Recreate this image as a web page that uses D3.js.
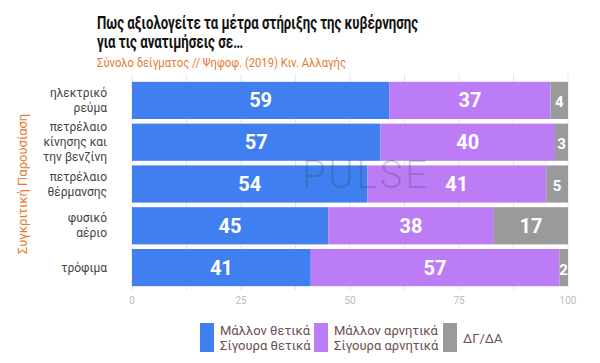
<!DOCTYPE html>
<html>
<head>
<meta charset="utf-8">
<script src="https://cdn.jsdelivr.net/npm/d3@7"></script>
<style>
  body { margin: 0; background: #fff; }
  text { font-family: Roboto, "Noto Sans", sans-serif; }
</style>
</head>
<body>
<div id="chart"></div>
<script>
var width = 600,
    height = 363;

var categories = [["ηλεκτρικό", "ρεύμα"], ["πετρέλαιο", "κίνησης και", "την βενζίνη"], ["πετρέλαιο", "θέρμανσης"], ["φυσικό", "αέριο"], ["τρόφιμα"]];
var positive = [59, 57, 54, 45, 41];
var negative = [37, 40, 41, 38, 57];
var dkna = [4, 3, 5, 17, 2];
var ticks = [0, 25, 50, 75, 100];
var colors = ["#3f7ff0", "#bb7cf6", "#9a9a9a"];

var margin = {left: 132, right: 32, top: 78, bottom: 76};

var svg = d3.select("#chart").append("svg")
    .attr("width", width)
    .attr("height", height);

var x = d3.scaleLinear().domain([0, 100]).range([margin.left, width - margin.right]);
var y = d3.scaleBand().domain(d3.range(categories.length))
    .range([margin.top + 3, height - margin.bottom]).paddingInner(0.11).paddingOuter(0.02);

// gridlines
svg.append("g").selectAll("line")
    .data(d3.range(0, 101, 12.5))
  .enter().append("line")
    .attr("x1", function(d){ return x(d); })
    .attr("x2", function(d){ return x(d); })
    .attr("y1", margin.top - 4)
    .attr("y2", height - margin.bottom + 3)
    .attr("stroke", "#e6e6e6")
    .attr("stroke-width", 1);

var rows = categories.map(function(c, i){
  var vals = [positive[i], negative[i], dkna[i]];
  var start = 0;
  return vals.map(function(v, k){
    var seg = {row: i, k: k, v: v, x0: start, x1: start + v};
    start += v;
    return seg;
  });
});
var segs = [].concat.apply([], rows);

svg.append("g").selectAll("rect")
    .data(segs)
  .enter().append("rect")
    .attr("x", function(d){ return x(d.x0); })
    .attr("width", function(d){ return x(d.x1) - x(d.x0); })
    .attr("y", function(d){ return y(d.row); })
    .attr("height", y.bandwidth())
    .attr("fill", function(d){ return colors[d.k]; });

// watermark over the bars
svg.append("text")
    .attr("x", 366).attr("y", 188)
    .attr("text-anchor", "middle")
    .attr("font-size", 38)
    .attr("font-weight", 300)
    .attr("letter-spacing", 3)
    .attr("fill", "#333")
    .attr("fill-opacity", 0.22)
    .text("PULSE");

svg.append("g").selectAll("text")
    .data(segs)
  .enter().append("text")
    .attr("x", function(d){ return (x(d.x0) + x(d.x1)) / 2; })
    .attr("y", function(d){ return y(d.row) + y.bandwidth() / 2 + 7; })
    .attr("text-anchor", "middle")
    .attr("font-size", function(d){ return d.v < 6 ? 15 : 20; })
    .attr("font-weight", "bold")
    .attr("fill", "#fff")
    .text(function(d){ return d.v; });

// category labels
var cl = svg.append("g").selectAll("text")
    .data(categories)
  .enter().append("text")
    .attr("text-anchor", "end")
    .attr("font-size", 12)
    .attr("fill", "#444")
    .attr("y", function(d, i){ return y(i) + y.bandwidth() / 2 - (d.length - 1) * 7.5 + 4; });
cl.selectAll("tspan")
    .data(function(d){ return d; })
  .enter().append("tspan")
    .attr("x", 107)
    .attr("dy", function(d, i){ return i ? 15 : 0; })
    .text(function(d){ return d; });

// x axis labels
svg.append("g").selectAll("text")
    .data(ticks)
  .enter().append("text")
    .attr("x", function(d){ return x(d); })
    .attr("y", 304)
    .attr("text-anchor", "middle")
    .attr("font-size", 10)
    .attr("fill", "#bbb")
    .text(function(d){ return d; });

// y title
svg.append("text")
    .attr("transform", "translate(27,184) rotate(-90)")
    .attr("text-anchor", "middle")
    .attr("font-size", 13)
    .attr("fill", "#e87a2e")
    .text("Συγκριτική Παρουσίαση");

// titles
svg.append("text").attr("x", 97).attr("y", 29)
    .attr("font-size", 18).attr("font-weight", "bold").attr("fill", "#111")
    .attr("textLength", 321).attr("lengthAdjust", "spacingAndGlyphs")
    .text("Πως αξιολογείτε τα μέτρα στήριξης της κυβέρνησης");
svg.append("text").attr("x", 97).attr("y", 48)
    .attr("font-size", 18).attr("font-weight", "bold").attr("fill", "#111")
    .attr("textLength", 146).attr("lengthAdjust", "spacingAndGlyphs")
    .text("για τις ανατιμήσεις σε…");
svg.append("text").attr("x", 97).attr("y", 67)
    .attr("font-size", 13).attr("fill", "#e87a2e")
    .attr("textLength", 249).attr("lengthAdjust", "spacingAndGlyphs")
    .text("Σύνολο δείγματος // Ψηφοφ. (2019)  Κιν. Αλλαγής");

// legend
var legend = [
  {x: 200, lines: ["Μάλλον θετικά", "Σίγουρα θετικά"]},
  {x: 314, lines: ["Μάλλον αρνητικά", "Σίγουρα αρνητικά"]},
  {x: 443, lines: ["ΔΓ/ΔΑ"]}
];
var lg = svg.append("g").selectAll("g")
    .data(legend)
  .enter().append("g");
lg.append("rect")
    .attr("x", function(d){ return d.x; })
    .attr("y", 323)
    .attr("width", 14)
    .attr("height", 29)
    .attr("fill", function(d, i){ return colors[i]; });
var lt = lg.append("text")
    .attr("font-size", 13)
    .attr("fill", "#6b5050")
    .attr("y", function(d){ return d.lines.length > 1 ? 335 : 343; });
lt.selectAll("tspan")
    .data(function(d){ return d.lines.map(function(l){ return {x: d.x + 20, t: l}; }); })
  .enter().append("tspan")
    .attr("x", function(d){ return d.x; })
    .attr("dy", function(d, i){ return i ? 15 : 0; })
    .text(function(d){ return d.t; });
</script>
</body>
</html>
